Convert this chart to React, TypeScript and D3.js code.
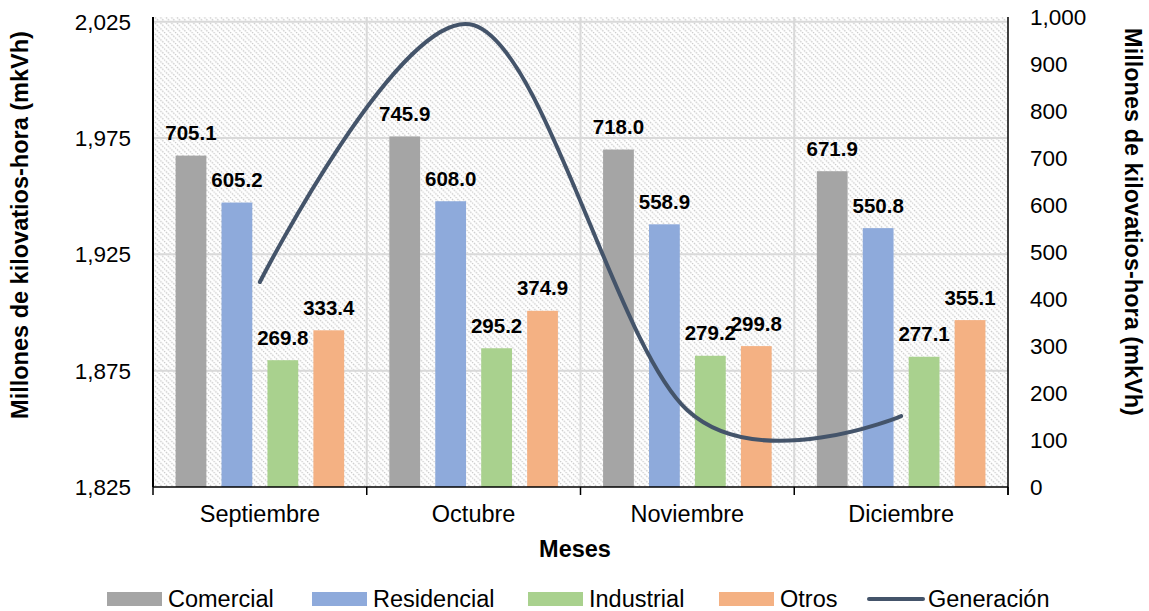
import React from "react";
import * as d3 from "d3";

const months = ["Septiembre", "Octubre", "Noviembre", "Diciembre"];
const seriesNames = ["Comercial", "Residencial", "Industrial", "Otros"];
const comercial = [705.1, 745.9, 718.0, 671.9];
const residencial = [605.2, 608.0, 558.9, 550.8];
const industrial = [269.8, 295.2, 279.2, 277.1];
const otros = [333.4, 374.9, 299.8, 355.1];
const generacion = [1913.1, 2023.5, 1858.0, 1855.5];
const leftTicks = [1825, 1875, 1925, 1975, 2025];
const rightTicks = [0, 100, 200, 300, 400, 500, 600, 700, 800, 900, 1000];
const colors = ["#a5a5a5", "#8eaadb", "#a9d18e", "#f4b183"];
const lineColor = "#44546a";

const W = 1149;
const H = 611;
const X0 = 153;
const X1 = 1008;
const YT = 17;
const YB = 487;
const FONT = "'Liberation Sans', Arial, sans-serif";

export default function App() {
  const seriesValues = [comercial, residencial, industrial, otros];
  const x0 = d3.scaleBand<string>().domain(months).range([X0, X1]).padding(0);
  const cw = x0.bandwidth();
  const x1 = d3
    .scaleBand<string>()
    .domain(seriesNames)
    .range([15, cw - 15])
    .paddingInner(0.33)
    .paddingOuter(0.165);
  const yL = d3.scaleLinear().domain([1825, 2027]).range([YB, YT]);
  const yR = d3.scaleLinear().domain([0, 1000]).range([YB, YT]);
  const fmt = d3.format(",");
  const line = d3
    .line<number>()
    .x((_, i) => (x0(months[i]) as number) + cw / 2)
    .y((d) => yL(d))
    .curve(d3.curveCardinal.tension(0));

  const legendX = [107, 312, 528, 719, 869];
  const boundaries = [...months.map((m) => x0(m) as number), X1];

  return (
    <svg width={W} height={H} style={{ position: "absolute", left: 0, top: 0, background: "#fff" }}>
      <defs>
        <pattern id="hatch" patternUnits="userSpaceOnUse" width="5.5" height="5.5">
          <path d="M-1,-1 L6.5,6.5 M-1,4.5 L1,6.5 M4.5,-1 L6.5,1" stroke="#c6c6c6" strokeWidth="1.2" strokeDasharray="1.6 1.1" />
        </pattern>
      </defs>
      <rect x={X0} y={YT} width={X1 - X0} height={YB - YT} fill="#fff" />
      <rect x={X0} y={YT} width={X1 - X0} height={YB - YT} fill="url(#hatch)" />
      {leftTicks.slice(1).map((t) => (
        <line key={t} x1={X0} x2={X1} y1={yL(t)} y2={yL(t)} stroke="#d9d9d9" strokeWidth={2} />
      ))}
      {boundaries.slice(1, -1).map((b, i) => (
        <line key={i} x1={b} x2={b} y1={YT} y2={YB} stroke="#d9d9d9" strokeWidth={2} />
      ))}
      {months.map((m, i) =>
        seriesNames.map((s, j) => {
          const v = seriesValues[j][i];
          const bx = (x0(m) as number) + (x1(s) as number);
          return (
            <g key={m + s}>
              <rect x={bx} y={yR(v)} width={x1.bandwidth()} height={YB - yR(v)} fill={colors[j]} />
              <text
                x={bx + x1.bandwidth() / 2}
                y={yR(v) - 15.5}
                textAnchor="middle"
                fontFamily={FONT}
                fontWeight="bold"
                fontSize={20.5}
                fill="#000"
              >
                {v.toFixed(1)}
              </text>
            </g>
          );
        })
      )}
      <path d={line(generacion) || ""} fill="none" stroke={lineColor} strokeWidth={4} strokeLinecap="round" />
      <line x1={X0} x2={X0} y1={YT} y2={YB} stroke="#000" strokeWidth={2} />
      <line x1={X1} x2={X1} y1={YT} y2={YB + 8} stroke="#000" strokeWidth={1.5} />
      <line x1={X0} x2={X1} y1={YB} y2={YB} stroke="#000" strokeWidth={1.5} />
      {boundaries.map((b, i) => (
        <line key={i} x1={b} x2={b} y1={YB} y2={YB + 8} stroke="#000" strokeWidth={1.5} />
      ))}
      {leftTicks.map((t) => (
        <text key={t} x={131} y={yL(t) + 8} textAnchor="end" fontFamily={FONT} fontSize={22.5} fill="#000">
          {fmt(t)}
        </text>
      ))}
      {rightTicks.map((t) => (
        <text key={t} x={1030} y={yR(t) + 8} textAnchor="start" fontFamily={FONT} fontSize={22.5} fill="#000">
          {fmt(t)}
        </text>
      ))}
      {months.map((m) => (
        <text key={m} x={(x0(m) as number) + cw / 2} y={522} textAnchor="middle" fontFamily={FONT} fontSize={23.5} fill="#000">
          {m}
        </text>
      ))}
      <text x={575} y={557} textAnchor="middle" fontFamily={FONT} fontWeight="bold" fontSize={23.5} fill="#000">
        Meses
      </text>
      <text
        transform={`translate(28,225) rotate(-90)`}
        textAnchor="middle"
        fontFamily={FONT}
        fontWeight="bold"
        fontSize={23.5}
        fill="#000"
      >
        Millones de kilovatios-hora (mkVh)
      </text>
      <text
        transform={`translate(1125,222) rotate(90)`}
        textAnchor="middle"
        fontFamily={FONT}
        fontWeight="bold"
        fontSize={23.5}
        fill="#000"
      >
        Millones de kilovatios-hora (mkVh)
      </text>
      {seriesNames.map((s, j) => (
        <g key={s}>
          <rect x={legendX[j]} y={592} width={55} height={14} fill={colors[j]} />
          <text x={legendX[j] + 61} y={607} fontFamily={FONT} fontSize={23.5} fill="#000">
            {s}
          </text>
        </g>
      ))}
      <line x1={legendX[4]} x2={legendX[4] + 54} y1={599} y2={599} stroke={lineColor} strokeWidth={4} strokeLinecap="round" />
      <text x={legendX[4] + 59} y={607} fontFamily={FONT} fontSize={23.5} fill="#000">
        Generación
      </text>
    </svg>
  );
}
